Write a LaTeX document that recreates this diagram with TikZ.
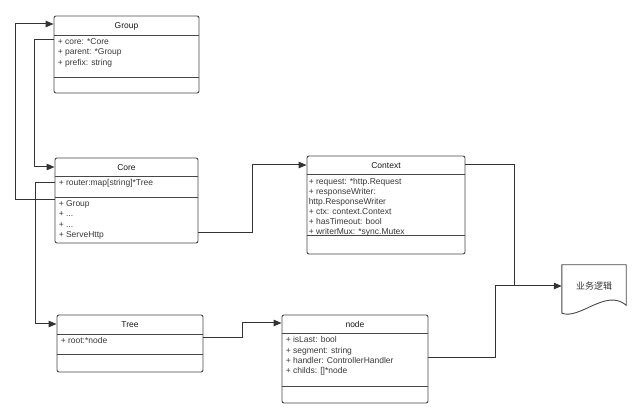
\documentclass[tikz,border=0pt]{standalone}
\usepackage{fontspec}
\setmainfont{Liberation Sans}
\newfontfamily\cjk{Noto Sans CJK SC}
\usetikzlibrary{arrows.meta}

\begin{document}
\begin{tikzpicture}[x=1pt, y=-1pt,
    umlbox/.style={draw=black!72, line width=0.9pt, rounded corners=2pt, inner sep=0pt},
    classname/.style={font=\fontsize{8.5}{10}\selectfont, text=black!90},
    members/.style={anchor=north west, align=left, inner sep=0pt, xshift=4pt,
        font=\fontsize{8.5}{10.2}\selectfont, text=black!78},
    sepline/.style={draw=black!72, line width=0.9pt},
    link/.style={draw=black!80, line width=1pt},
    arr/.style={link, -{Triangle[length=8pt,width=6.5pt]}}]

    \useasboundingbox (0,0) rectangle (641,419);

    % Group
    \node[umlbox, minimum width=145, minimum height=77] (grp) at (126.5,54.5) {};
    \node[classname] (grpname) at (grp.north |- 0,26) {Group};
    \draw[sepline] (grp.west |- 0,35) -- (grp.east |- 0,35);
    \draw[sepline] (grp.west |- 0,77) -- (grp.east |- 0,77);
    \node[members] (grpattr) at (grp.west |- 0,38.5) {+ core: *Core\\+ parent: *Group\\+ prefix: string};

    % Core
    \node[umlbox, minimum width=143, minimum height=85] (core) at (126.5,200.5) {};
    \node[classname] (corename) at (core.north |- 0,167.5) {Core};
    \draw[sepline] (core.west |- 0,176) -- (core.east |- 0,176);
    \draw[sepline] (core.west |- 0,197) -- (core.east |- 0,197);
    \node[members] (coreattr) at (core.west |- 0,179.5) {+ router:map[string]*Tree};
    \node[members] (coreop) at (core.west |- 0,200.5) {+ Group\\+ ...\\+ ...\\+ ServeHttp};

    % Tree
    \node[umlbox, minimum width=146, minimum height=57] (tree) at (130,343.5) {};
    \node[classname] (treename) at (tree.north |- 0,325) {Tree};
    \draw[sepline] (tree.west |- 0,334) -- (tree.east |- 0,334);
    \draw[sepline] (tree.west |- 0,354) -- (tree.east |- 0,354);
    \node[members] (treeattr) at (tree.west |- 0,337.5) {+ root:*node};

    % node
    \node[umlbox, minimum width=146, minimum height=88] (nd) at (355,359) {};
    \node[classname] (ndname) at (nd.north |- 0,324.5) {node};
    \draw[sepline] (nd.west |- 0,333) -- (nd.east |- 0,333);
    \draw[sepline] (nd.west |- 0,386) -- (nd.east |- 0,386);
    \node[members] (ndattr) at (nd.west |- 0,336.5) {+ isLast: bool\\+ segment: string\\+ handler: ControllerHandler\\+ childs: []*node};

    % Context
    \node[umlbox, minimum width=158, minimum height=98] (ctx) at (386,205) {};
    \node[classname] (ctxname) at (ctx.north |- 0,165.5) {Context};
    \node[members, xshift=-2pt, font=\fontsize{8.5}{10.05}\selectfont] (ctxattr) at (ctx.west |- 0,178) {+ request: *http.Request\\+ responseWriter:\\http.ResponseWriter\\+ ctx: context.Context\\+ hasTimeout: bool\\+ writerMux: *sync.Mutex};
    \draw[sepline] (ctx.west |- 0,174) -- (ctx.east |- 0,174);
    \fill[white] ([xshift=1pt]ctx.west |- 0,235.5) rectangle ([xshift=-1pt]ctx.east |- 0,240);
    \draw[sepline] (ctx.west |- 0,235) -- (ctx.east |- 0,235);

    % business logic document
    \node[minimum width=64, minimum height=42, inner sep=0pt, font=\cjk\fontsize{9}{10}\selectfont, text=black!80] (doc) at (594,286) {业务逻辑};
    \draw[sepline] ([yshift=-6pt]doc.south west) -- (doc.north west) -- (doc.north east) -- ([yshift=2pt]doc.south east)
        .. controls (606,288) and (580,320) .. ([yshift=-6pt]doc.south west);

    \coordinate (merge) at (514,286);

    % connectors
    \draw[arr] (core.west |- 0,200) -- ++(-39,0) |- (grp.west |- 0,24);
    \draw[arr] (grp.west |- 0,40) -- ++(-19,0) |- (core.west |- 0,167);
    \draw[arr] (core.west |- 0,183) -- ++(-19,0) |- (tree.west |- 0,324);
    \draw[arr] (tree.east |- 0,338) -- ++(39,0) |- (nd.west |- 0,323);
    \draw[arr] (core.east |- 0,233) -- ++(54,0) |- (ctx.west |- 0,165);
    \draw[link] (ctx.east |- 0,165) -| (merge);
    \draw[arr] (nd.east |- 0,358) -- ++(67,0) |- (doc.west);

\end{tikzpicture}
\end{document}
